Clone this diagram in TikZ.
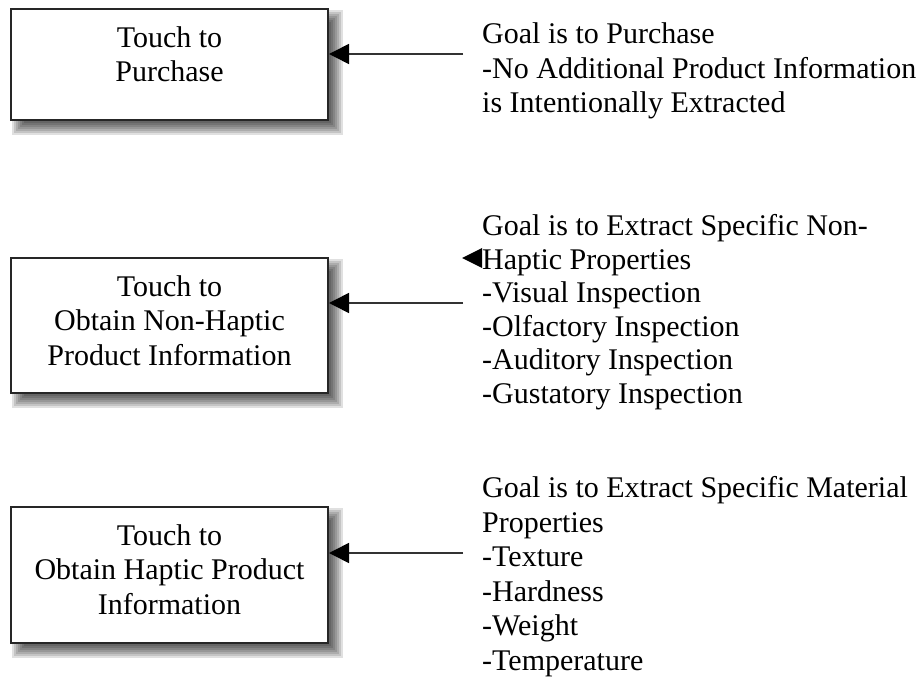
\documentclass[tikz,border=0pt]{standalone}
\usepackage{fontspec}
\setmainfont{Liberation Serif}
\usetikzlibrary{arrows.meta}
\newcommand\boxshadow[4]{%
  \foreach \e in {-7,-5,-3,-1,1,3,5,7}{%
    \fill[black,opacity=0.12] (#1+8-\e,#2+8-\e) rectangle (#3+8+\e,#4+8+\e);}}
\begin{document}
\begin{tikzpicture}[x=1pt,y=-1pt,
  box/.style={draw=black!85, line width=2pt, fill=white, minimum width=317pt, inner sep=0pt},
  boxtext/.style={align=center, font=\fontsize{30}{34.5}\selectfont, inner sep=0pt, anchor=north},
  goal/.style={align=left, font=\fontsize{30}{34.5}\selectfont, inner sep=0pt, anchor=north west},
  arr/.style={line width=1.6pt, draw=black!80, -{Triangle[length=20pt,width=20pt,fill=black,color=black]}},
]
\useasboundingbox (0,0) rectangle (922,679);
\fill[white] (0,0) rectangle (922,679);
% shadows
\boxshadow{11}{9}{328}{120}
\boxshadow{11}{258}{328}{393}
\boxshadow{11}{507}{328}{643}
% boxes
\node[box, minimum height=111pt] (b1) at (169.5,64.5) {};
\node[box, minimum height=135pt] (b2) at (169.5,325.5) {};
\node[box, minimum height=136pt] (b3) at (169.5,575) {};
\node[boxtext] (b1t) at (169.5,26) {Touch to\\Purchase};
\node[boxtext] (b2t) at (169.5,275) {Touch to\\Obtain Non-Haptic\\Product Information};
\node[boxtext] (b3t) at (169.5,524) {Touch to\\Obtain Haptic Product\\Information};
% goal texts
\node[goal] (g1) at (482,22.5) {Goal is to Purchase\\-No Additional Product Information\\is Intentionally Extracted};
\node[goal, font=\fontsize{30}{33.5}\selectfont] (g2) at (482,214.5) {Goal is to Extract Specific Non-\\Haptic Properties\\-Visual Inspection\\-Olfactory Inspection\\-Auditory Inspection\\-Gustatory Inspection};
\node[goal] (g3) at (482,476.5) {Goal is to Extract Specific Material\\Properties\\-Texture\\-Hardness\\-Weight\\-Temperature};
% connectors
\coordinate (a1) at (463,54);
\coordinate (a2) at (463,303);
\coordinate (a3) at (463,553);
\draw[arr] (a1) -- (a1 -| b1.east);
\draw[arr] (a2) -- (a2 -| b2.east);
\draw[arr] (a3) -- (a3 -| b3.east);
% stray arrowhead
\coordinate (s) at (462,258);
\fill[black] (s) -- ++(20,-10) -- ++(0,20) -- cycle;
\end{tikzpicture}
\end{document}
